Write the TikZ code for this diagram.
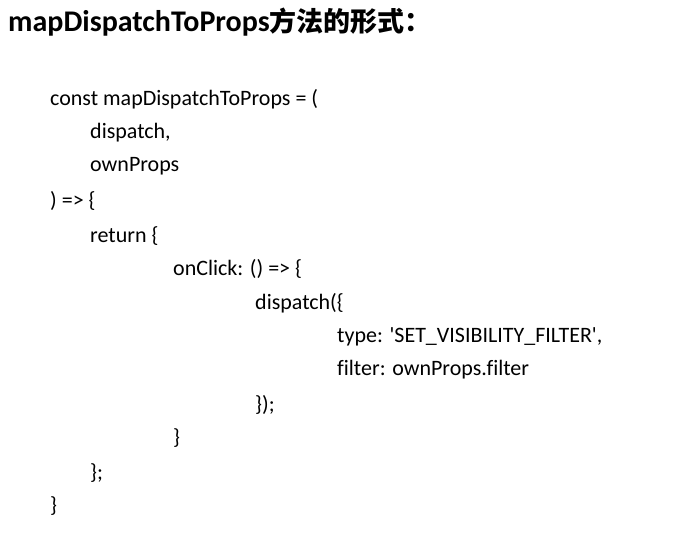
\documentclass[tikz,border=0pt]{standalone}
\usepackage{fontspec}
\setmainfont[Ligatures=NoCommon]{Carlito}
\newfontfamily\plainfont{Carlito}
\newfontfamily\cjk{Noto Sans CJK SC}
\begin{document}
\begin{tikzpicture}[x=1pt,y=-1pt,
  code/.style={anchor=west,inner sep=0pt,font=\fontsize{22}{26}\selectfont}]
\useasboundingbox[fill=white] (0,0) rectangle (700,535);
\node[anchor=west,inner sep=0pt,font=\fontsize{30}{34}\selectfont\bfseries] (title) at (8,22) {mapDispatchToProps{\cjk\fontsize{27}{30}\selectfont 方法的形式：}};
\node[code] (l1) at (50,99) {const mapDispatchToProps = (};
\node[code] (l2) at (90,133) {dispatch,};
\node[code] (l3) at (90,166) {ownProps};
\node[code] (l4) at (50,201) {) => \{};
\node[code] (l5) at (90,236) {return \{};
\node[code] (l6) at (173,269) {onClick: () => \{};
\node[code] (l7) at (255,303) {dispatch(\{};
\node[code] (l8) at (337,337) {type: {\plainfont\textquotesingle}SET\_VISIBILITY\_FILTER{\plainfont\textquotesingle},};
\node[code] (l9) at (337,370) {filter: ownProps.filter};
\node[code] (l10) at (255,405) {\});};
\node[code] (l11) at (173,438) {\}};
\node[code] (l12) at (90,473) {\};};
\node[code] (l13) at (50,506) {\}};
\end{tikzpicture}
\end{document}
